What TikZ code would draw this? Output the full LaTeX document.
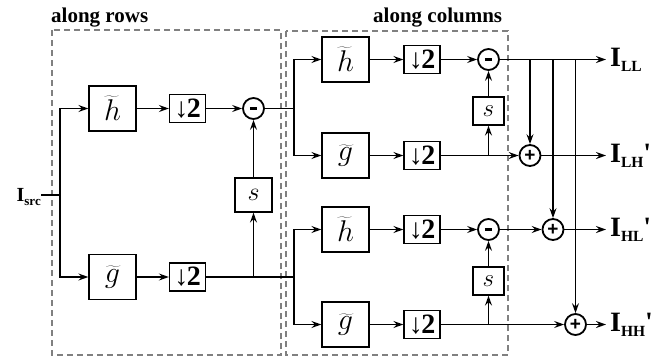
\documentclass[tikz,border=0pt]{standalone}
\usepackage{fix-cm}
\usepackage{fontspec}
\setmainfont{Liberation Serif}
\newfontfamily\signfont{Liberation Sans}
\usetikzlibrary{arrows.meta}
\newcommand\lsub[1]{\raisebox{-5pt}{\fontsize{15.5}{15.5}\selectfont #1}}
\newcommand\dwn{↓\kern-1.5pt 2}
\newcommand\minussign{\rule[-1.3pt]{7.5pt}{2.6pt}}
\tikzset{
 blk/.style={draw, line width=1.3pt, minimum width=47pt, minimum height=45pt, inner sep=0pt, font=\fontsize{30}{30}\selectfont},
 dn/.style={draw, line width=1.3pt, minimum width=36pt, minimum height=28pt, inner sep=0pt, font=\fontsize{28}{28}\selectfont\bfseries},
 sbig/.style={draw, line width=1.3pt, minimum width=37pt, minimum height=34pt, inner sep=0pt, font=\fontsize{26}{26}\selectfont},
 ssmall/.style={draw, line width=1.3pt, minimum width=31pt, minimum height=28pt, inner sep=0pt, font=\fontsize{25}{25}\selectfont},
 sum/.style={draw, circle, line width=1.8pt, minimum size=21pt, inner sep=0pt, font=\signfont\bfseries\fontsize{19}{19}\selectfont},
 wire/.style={line width=1.3pt},
 arr/.style={wire, -{Stealth[length=10pt,width=7pt,inset=3.5pt]}},
 frame/.style={draw=gray, line width=1.5pt, dash pattern=on 6pt off 4pt},
 title/.style={font=\fontsize{21}{21}\selectfont\bfseries, inner sep=0pt, anchor=base west},
 outlbl/.style={font=\fontsize{28}{28}\selectfont\bfseries, anchor=west, inner sep=0pt},
}
\begin{document}
\begin{tikzpicture}[x=1pt,y=-1pt]
\useasboundingbox (0,0) rectangle (672,360);
% frames
\draw[frame] (52,30) rectangle (281,355);
\draw[frame] (286,31) rectangle (508,355);
\node[title] (t1) at (51,22) {along rows};
\node[title] (t2) at (373,22) {along columns};
% left stage
\node[anchor=base east, inner sep=0pt, font=\fontsize{20}{20}\selectfont\bfseries] (src) at (41,201.5) {I\raisebox{-4pt}{\fontsize{13}{13}\selectfont src}};
\coordinate (J0) at (60,195);
\node[blk] (h1) at (112.5,108.5) {$\widetilde{h}$};
\node[dn] (d1) at (187.5,108.5) {\dwn};
\node[sum] (m1) at (253.5,108.5) {\minussign};
\node[sbig] (s1) at (253.5,195) {$s$};
\node[blk] (g1) at (112.5,277) {$\widetilde{g}$};
\node[dn] (d2) at (187.5,277) {\dwn};
\coordinate (b1) at (253.5,277);
\coordinate (j1) at (294,108.5);
\coordinate (j2) at (294,277);
% right stage
\node[blk] (hA) at (345.5,59.5) {$\widetilde{h}$};
\node[dn] (dA) at (422,59.5) {\dwn};
\node[sum] (mA) at (488.5,59.5) {\minussign};
\node[ssmall] (sA) at (488.5,111) {$s$};
\node[blk] (gB) at (345.5,155.5) {$\widetilde{g}$};
\node[dn] (dB) at (422,155.5) {\dwn};
\coordinate (bB) at (488.5,155.5);
\node[sum] (pLH) at (530,155.5) {+};
\node[blk] (hC) at (345.5,229.5) {$\widetilde{h}$};
\node[dn] (dC) at (422,229.5) {\dwn};
\node[sum] (mC) at (488.5,229.5) {\minussign};
\node[ssmall] (sC) at (488.5,281) {$s$};
\node[blk] (gD) at (345.5,324.5) {$\widetilde{g}$};
\node[dn] (dD) at (422,324.5) {\dwn};
\coordinate (bD) at (488.5,324.5);
\node[sum] (pHL) at (553,229.5) {+};
\node[sum] (pHH) at (575.5,324.5) {+};
\coordinate (v1) at (530,59.5);
\coordinate (v2) at (553,59.5);
\coordinate (v3) at (575.5,59.5);
\coordinate (oLL) at (606,59.5);
\coordinate (oLH) at (606,155.5);
\coordinate (oHL) at (606,229.5);
\coordinate (oHH) at (606,324.5);
\node[outlbl] (lLL) at (610,59.5) {I\lsub{LL}};
\node[outlbl] (lLH) at (610,155.5) {I\lsub{LH}\textquotesingle};
\node[outlbl] (lHL) at (610,229.5) {I\lsub{HL}\textquotesingle};
\node[outlbl] (lHH) at (610,324.5) {I\lsub{HH}\textquotesingle};
% wires left
\draw[wire] (src.east |- J0) -- (J0);
\draw[arr] (J0) |- (h1);
\draw[arr] (J0) |- (g1);
\draw[arr] (h1) -- (d1);
\draw[arr] (d1) -- (m1);
\draw[arr] (g1) -- (d2);
\draw[wire] (d2) -- (j2);
\draw[arr] (b1) -- (s1);
\draw[arr] (s1) -- (m1);
\draw[wire] (m1) -- (j1);
\draw[arr] (j1) |- (hA);
\draw[arr] (j1) |- (gB);
\draw[arr] (j2) |- (hC);
\draw[arr] (j2) |- (gD);
% wires right
\draw[arr] (hA) -- (dA);
\draw[arr] (dA) -- (mA);
\draw[arr] (mA) -- (oLL);
\draw[arr] (bB) -- (sA);
\draw[arr] (sA) -- (mA);
\draw[arr] (gB) -- (dB);
\draw[arr] (dB) -- (pLH);
\draw[arr] (pLH) -- (oLH);
\draw[arr] (hC) -- (dC);
\draw[arr] (dC) -- (mC);
\draw[arr] (mC) -- (pHL);
\draw[arr] (pHL) -- (oHL);
\draw[arr] (bD) -- (sC);
\draw[arr] (sC) -- (mC);
\draw[arr] (gD) -- (dD);
\draw[arr] (dD) -- (pHH);
\draw[arr] (pHH) -- (oHH);
\draw[arr] (v1) -- (pLH);
\draw[arr] (v2) -- (pHL);
\draw[arr] (v3) -- (pHH);
\end{tikzpicture}
\end{document}
